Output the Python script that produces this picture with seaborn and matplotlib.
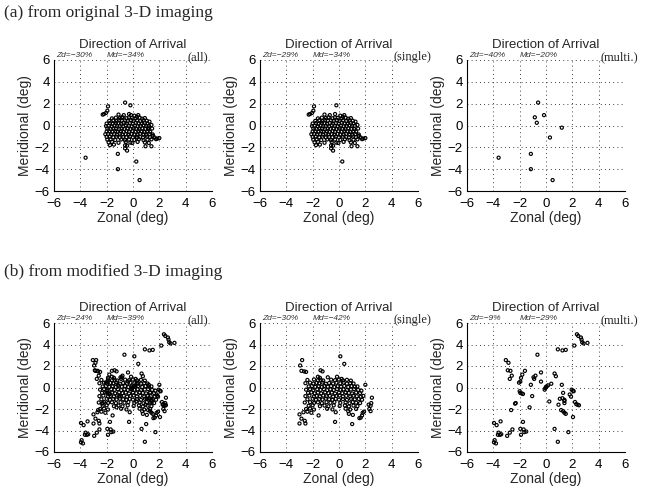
import numpy as np
import pandas as pd
import seaborn as sns
import matplotlib
matplotlib.use("Agg")
import matplotlib.pyplot as plt
from matplotlib.ticker import MultipleLocator

sns.set_style("white")
plt.rcParams["font.family"] = ["Liberation Sans", "DejaVu Sans"]

# direction of arrival points (zonal, meridional) in deg
# (a) original 3-D imaging
orig_single = [
    (-2.3, 1.0), (-2.2, 1.05), (-2.05, 1.15), (-1.95, 1.35), (-1.9, 1.75), (-0.2, 1.85),
    (-0.6, -2.1), (-0.45, -2.3), (0.25, -3.3), (1.4, -1.9), (1.65, -1.1), (1.85, -1.2),
    (2.0, -1.15), (1.25, 0.35), (1.4, 0.05), (1.5, -0.95), (-0.05, -1.6),
    (-1.1, 1.0), (-0.7, 0.95), (-0.3, 1.05), (0.1, 0.9), (0.4, 0.95), (0.3, 0.8),
    (-1.6, 0.65), (-1.3, 0.72), (-1.0, 0.68), (-0.8, 0.75), (-0.5, 0.66), (-0.3, 0.74),
    (-0.1, 0.7), (0.2, 0.65), (0.5, 0.72), (0.7, 0.62), (0.9, 0.68),
    (-1.8, 0.42), (-1.5, 0.48), (-1.25, 0.4), (-1.05, 0.5), (-0.85, 0.44), (-0.6, 0.47),
    (-0.4, 0.41), (-0.15, 0.5), (0.05, 0.43), (0.3, 0.46), (0.55, 0.4), (0.8, 0.48), (1.05, 0.44),
    (-2.0, 0.18), (-1.75, 0.22), (-1.55, 0.15), (-1.3, 0.24), (-1.1, 0.2), (-0.9, 0.16),
    (-0.7, 0.23), (-0.45, 0.18), (-0.25, 0.21), (0.0, 0.15), (0.2, 0.24), (0.45, 0.2),
    (0.65, 0.17), (0.9, 0.22), (1.1, 0.19),
    (-2.05, -0.05), (-1.85, -0.02), (-1.6, -0.08), (-1.4, 0.0), (-1.2, -0.06), (-1.0, -0.03),
    (-0.75, -0.09), (-0.55, 0.01), (-0.3, -0.04), (-0.1, -0.07), (0.15, -0.02), (0.35, -0.08),
    (0.6, -0.04), (0.8, 0.02), (1.0, -0.06), (1.2, -0.03),
    (-1.95, -0.28), (-1.7, -0.33), (-1.5, -0.26), (-1.3, -0.31), (-1.05, -0.35), (-0.85, -0.27),
    (-0.65, -0.32), (-0.4, -0.29), (-0.2, -0.34), (0.05, -0.27), (0.25, -0.31), (0.5, -0.35),
    (0.7, -0.26), (0.95, -0.3), (1.15, -0.33), (1.45, -0.28),
    (-2.0, -0.55), (-1.8, -0.52), (-1.55, -0.58), (-1.35, -0.5), (-1.15, -0.57), (-0.95, -0.53),
    (-0.7, -0.59), (-0.5, -0.51), (-0.3, -0.56), (-0.05, -0.52), (0.2, -0.58), (0.4, -0.5),
    (0.65, -0.55), (0.85, -0.6), (1.1, -0.52), (1.3, -0.57),
    (-2.1, -0.8), (-1.9, -0.77), (-1.65, -0.83), (-1.45, -0.78), (-1.2, -0.84), (-1.0, -0.76),
    (-0.8, -0.82), (-0.55, -0.79), (-0.35, -0.85), (-0.1, -0.77), (0.1, -0.81), (0.35, -0.84),
    (0.55, -0.76), (0.8, -0.8), (1.0, -0.85), (1.25, -0.78), (1.5, -0.82),
    (-2.0, -1.05), (-1.75, -1.02), (-1.5, -1.08), (-1.25, -1.03), (-1.0, -1.1), (-0.75, -1.04),
    (-0.5, -1.07), (-0.25, -1.01), (0.0, -1.09), (0.3, -1.03), (0.55, -1.06), (0.75, -1.1),
    (1.05, -1.02), (1.3, -1.07), (1.75, -1.25),
    (-1.95, -1.3), (-1.7, -1.27), (-1.35, -1.33), (-0.9, -1.28), (-0.6, -1.35), (-0.3, -1.29),
    (0.1, -1.32), (0.45, -1.26), (0.8, -1.34), (1.1, -1.3), (1.4, -1.27),
    (-1.85, -1.55), (-1.6, -1.5), (-1.1, -1.58), (-0.55, -1.52), (-0.2, -1.57), (0.35, -1.5),
    (0.9, -1.55), (1.2, -1.6),
    (-1.75, -1.8), (-1.45, -1.75), (-0.6, -1.82), (-0.45, -1.85), (0.95, -1.9),
]
orig_multi = [
    (-3.6, -2.95), (-1.15, -2.6), (-1.15, -4.0), (-0.85, 0.75), (-0.7, 0.25),
    (-0.6, 2.1), (-0.15, 0.95), (0.3, -1.1), (1.2, -0.2), (0.5, -5.0),
]

# (b) modified 3-D imaging
mod_single = [
    (-2.8, 2.55), (-2.95, 2.05), (-2.85, 1.55), (-2.65, 1.5), (-2.5, 1.45), (0.1, 2.9),
    (0.4, 2.2), (-1.4, 1.6), (-1.25, 1.5), (2.0, 0.25), (2.25, -1.6), (2.4, -1.7),
    (2.3, -2.0), (2.45, -1.45), (2.4, -2.2), (2.5, -0.95), (-3.0, -2.5), (-2.85, -2.9),
    (-2.6, -3.1), (-2.55, -3.35), (-3.0, -3.35), (-1.55, -2.6), (-0.3, -3.2), (1.0, -3.4),
    (1.65, -2.8), (0.75, -2.45), (1.05, -2.55), (1.55, -2.85), (1.9, -2.25), (1.75, -2.6),
    (-1.6, 1.0), (-1.45, 0.9), (-0.85, 0.95), (-0.15, 1.0), (0.2, 0.8),
    (-2.4, 0.7), (-1.9, 0.75), (-1.6, 0.66), (-1.4, 0.72), (-1.2, 0.65), (-0.6, 0.73),
    (-0.3, 0.68), (0.0, 0.74), (0.3, 0.66), (0.6, 0.71), (0.9, 0.64),
    (-2.55, 0.4), (-2.2, 0.45), (-1.95, 0.36), (-1.7, 0.43), (-1.5, 0.38), (-1.25, 0.46),
    (-1.0, 0.35), (-0.75, 0.42), (-0.45, 0.37), (-0.2, 0.44), (0.1, 0.39), (0.35, 0.45),
    (0.6, 0.36), (0.85, 0.41), (1.1, 0.37),
    (-2.3, 0.1), (-2.05, 0.14), (-1.8, 0.06), (-1.55, 0.12), (-1.3, 0.05), (-1.1, 0.15),
    (-0.85, 0.08), (-0.6, 0.13), (-0.35, 0.04), (-0.1, 0.11), (0.15, 0.07), (0.4, 0.14),
    (0.7, 0.05), (0.95, 0.12), (1.2, 0.08), (1.4, 0.1),
    (-2.5, -0.2), (-2.2, -0.15), (-1.95, -0.24), (-1.65, -0.17), (-1.4, -0.22), (-1.15, -0.16),
    (-0.9, -0.25), (-0.65, -0.18), (-0.4, -0.23), (-0.15, -0.14), (0.1, -0.21), (0.35, -0.17),
    (0.6, -0.24), (0.9, -0.19), (1.15, -0.15), (1.45, -0.22), (1.7, -0.3),
    (-2.35, -0.5), (-2.1, -0.46), (-1.85, -0.54), (-1.6, -0.48), (-1.35, -0.55), (-1.05, -0.45),
    (-0.8, -0.52), (-0.55, -0.47), (-0.3, -0.56), (0.0, -0.49), (0.25, -0.53), (0.5, -0.45),
    (0.75, -0.51), (1.0, -0.55), (1.3, -0.47), (1.6, -0.52),
    (-2.55, -0.8), (-2.25, -0.76), (-1.9, -0.84), (-1.7, -0.78), (-1.45, -0.83), (-1.2, -0.75),
    (-0.95, -0.82), (-0.7, -0.77), (-0.45, -0.85), (-0.2, -0.79), (0.05, -0.74), (0.3, -0.83),
    (0.55, -0.78), (0.85, -0.84), (1.1, -0.76), (1.35, -0.81), (1.65, -0.86), (1.85, -0.78),
    (-2.4, -1.1), (-2.0, -1.05), (-1.75, -1.14), (-1.5, -1.07), (-1.25, -1.12), (-1.0, -1.04),
    (-0.75, -1.1), (-0.5, -1.15), (-0.25, -1.06), (0.0, -1.13), (0.3, -1.08), (0.6, -1.15),
    (0.9, -1.05), (1.2, -1.11), (1.5, -1.07), (1.75, -1.14),
    (-2.6, -1.4), (-2.2, -1.36), (-1.9, -1.44), (-1.6, -1.38), (-1.3, -1.45), (-0.95, -1.37),
    (-0.65, -1.42), (-0.35, -1.35), (0.1, -1.43), (0.5, -1.39), (0.8, -1.46), (1.05, -1.36),
    (1.3, -1.41), (1.6, -1.45),
    (-2.3, -1.7), (-2.0, -1.65), (-1.45, -1.74), (-1.1, -1.68), (-0.8, -1.75), (-0.4, -1.66),
    (0.05, -1.72), (0.45, -1.67), (0.75, -1.76), (1.1, -1.69), (1.4, -1.73),
    (-2.5, -2.0), (-2.2, -1.96), (-1.9, -2.05), (-0.9, -1.98), (-0.5, -2.04), (0.5, -1.97),
    (0.85, -2.05), (1.3, -2.0),
    (-2.7, -2.3), (-2.4, -2.25), (-2.1, -2.35), (-0.25, -2.3), (0.7, -2.2), (1.8, -2.35),
]
mod_multi = [
    (2.35, 4.95), (2.45, 4.8), (2.65, 4.65), (2.7, 4.45), (2.75, 4.2), (2.85, 4.1),
    (3.15, 4.15), (2.15, 3.9), (0.9, 3.55), (1.25, 3.45), (1.5, 3.5), (-0.65, 3.05),
    (-3.05, 2.55), (-2.85, 2.3), (-2.9, 1.6), (-2.7, 1.55), (-2.6, 1.1), (-2.75, 0.8),
    (-1.6, 1.55), (-1.8, 1.2), (-1.9, 0.9), (-1.95, 0.55), (-2.05, 0.45), (-0.8, 1.1),
    (-0.95, 0.95), (-0.9, 0.8), (-0.38, 1.4), (-0.38, 0.55), (0.65, 1.3), (0.75, 1.05),
    (-1.15, 0.25), (-2.0, -0.35), (-1.95, -0.5), (-1.85, -0.55), (-1.75, -0.6), (-1.05, -0.8),
    (-1.25, -1.85), (-2.3, -1.45), (-2.35, -1.5), (-2.65, -2.1),
    (-0.05, -0.05), (0.05, 0.1), (0.15, 0.2), (0.4, 0.35), (-0.1, -0.2), (0.0, 0.05),
    (1.2, 0.25), (1.95, -0.2), (2.05, -0.3), (1.8, -0.65), (2.1, -0.35), (1.3, -0.5),
    (1.25, -1.0), (1.4, -1.15), (1.4, -1.25), (1.05, -1.05), (0.25, -1.3), (1.9, -0.85),
    (2.2, -1.35), (2.3, -1.55), (2.4, -1.6), (2.5, -1.65), (0.95, -1.6), (1.15, -2.1),
    (1.3, -2.2), (1.4, -2.35), (1.5, -2.45), (2.05, -2.75), (1.4, -1.45),
    (-3.95, -3.3), (-3.75, -3.5), (-3.45, -3.15), (-1.75, -3.2), (-3.6, -4.2), (-3.65, -4.4),
    (-3.5, -4.4), (-3.4, -4.35), (-3.9, -4.9), (-3.95, -5.1), (-3.8, -5.2), (-2.95, -4.5),
    (-2.75, -4.2), (-2.55, -3.9), (-1.95, -3.85), (-1.9, -4.4), (-1.7, -3.9), (-1.5, -4.1),
    (-1.65, -4.15), (0.65, -3.85), (1.7, -4.15), (0.9, -5.05),
]

tags = ["(all)", "(single)", "(multi.)"]
orig_zd = ["Zd=\u221230%", "Zd=\u221229%", "Zd=\u221240%"]
orig_md = ["Md=\u221234%", "Md=\u221234%", "Md=\u221220%"]
mod_zd = ["Zd=\u221224%", "Zd=\u221230%", "Zd=\u22129%"]
mod_md = ["Md=\u221239%", "Md=\u221242%", "Md=\u221229%"]
headers = ["(a) from original 3-D imaging", "(b) from modified 3-D imaging"]

rows = [
    (orig_single, orig_multi, orig_zd, orig_md),
    (mod_single, mod_multi, mod_zd, mod_md),
]

fig = plt.figure(figsize=(6.5, 4.93), dpi=100)
W, H = 650, 493
lefts = [54, 260, 467]
tops = [60, 323]
heights = [131, 129]
aw = 158

for r, (single, multi, zd, md) in enumerate(rows):
    panels = [single + multi, single, multi]
    for c in range(3):
        ax = fig.add_axes([lefts[c] / W, 1 - (tops[r] + heights[r]) / H, aw / W, heights[r] / H])
        df = pd.DataFrame(panels[c], columns=["zonal", "meridional"])
        sns.scatterplot(data=df, x="zonal", y="meridional", ax=ax, marker="o", s=5,
                        facecolor="none", edgecolor="black", linewidth=0.85, legend=False)
        ax.set_xlim(-6, 6)
        ax.set_ylim(-6, 6)
        ax.xaxis.set_major_locator(MultipleLocator(2))
        ax.yaxis.set_major_locator(MultipleLocator(2))
        ax.xaxis.set_minor_locator(MultipleLocator(0.5))
        ax.yaxis.set_minor_locator(MultipleLocator(0.5))
        ax.grid(True, which="major", linestyle=(0, (1, 4)), color="black", linewidth=0.6)
        ax.set_axisbelow(True)
        for s in ["top", "right"]:
            ax.spines[s].set_visible(False)
        for s in ["left", "bottom"]:
            ax.spines[s].set_linewidth(0.8)
            ax.spines[s].set_color("black")
        ax.tick_params(which="major", direction="in", length=3, width=0.6, labelsize=9.5,
                       colors="black")
        ax.tick_params(axis="x", which="major", pad=5)
        ax.tick_params(axis="y", which="major", pad=3)
        ax.tick_params(which="minor", direction="in", length=1.5, width=0.5)
        ax.set_xlabel("Zonal (deg)", fontsize=10, labelpad=1)
        ax.set_ylabel("Meridional (deg)", fontsize=10, labelpad=2)
        ax.set_title("Direction of Arrival", fontsize=9.5, pad=8.5)
        ax.text(-5.85, 6.05, zd[c], fontsize=6, style="italic", color="#333333", va="bottom")
        ax.text(-2.0, 6.05, md[c], fontsize=6, style="italic", color="#333333", va="bottom")
        ax.text(4.15, 6.0, tags[c], fontsize=9, family="Liberation Serif", va="baseline")

fig.text(0.006, 1 - 17 / H, headers[0], fontsize=12.5, family="Liberation Serif", va="baseline")
fig.text(0.006, 1 - 276 / H, headers[1], fontsize=12.5, family="Liberation Serif", va="baseline")

fig.savefig("out.png", dpi=100)
